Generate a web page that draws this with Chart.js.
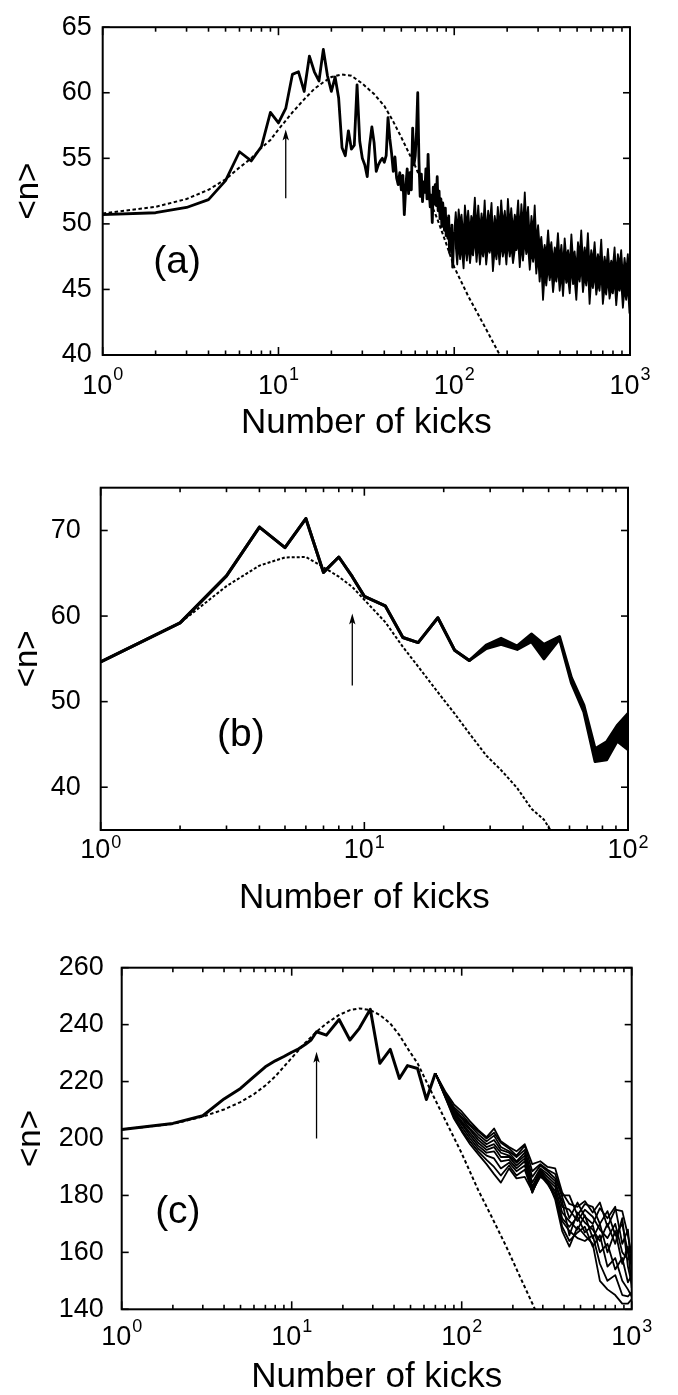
<!DOCTYPE html>
<html><head><meta charset="utf-8">
<script src="https://cdn.jsdelivr.net/npm/chart.js@4.4.1/dist/chart.umd.min.js"></script>
<style>
html,body{margin:0;padding:0;background:#fff;}
#wrap{position:relative;width:678px;height:1395px;background:#fff;overflow:hidden;}
canvas{position:absolute;left:0;}
</style></head><body>
<div id="wrap">
<canvas id="ca" width="678" height="460" style="top:0px"></canvas>
<canvas id="cb" width="678" height="500" style="top:440px"></canvas>
<canvas id="cc" width="678" height="480" style="top:915px"></canvas>
</div>
<script>
// ---------------- DATA ----------------
// Panel (a)
const kicksA = [1,2,3,4,5,6,7,8,9,10,11,12,13,14,15,16,17,18,19,20,21,22,23,24,25,26,27,28,29,30,
  31,32,33,34,35,36,37,38,39,40,41,42,43,44,45,46,47,48,49,50,51,52,53,54,55,56,57,58,59,60,
  61,62,63,64,65,66,67,68,69,70,71,72,73,74,75,76,77,78,79,80,81,82,83,84,85,86,87,88,89,90,
  91,92,93,94,95,96,97,98,99,100];
const nA = [50.7,50.85,51.25,51.85,53.3,55.5,54.8,55.9,58.5,57.7,58.8,61.4,61.6,60.1,62.8,61.6,60.9,63.3,61.3,60.1,
  61.2,59.6,55.8,55.2,57.1,55.7,56.0,60.6,56.3,55.0,
  54.5,53.6,56.0,57.4,56.2,54.0,54.5,54.8,55.0,54.7,55.2,58.1,56.5,55.4,54.0,55.1,53.5,53.0,53.9,52.6,
  53.7,50.7,52.8,54.2,52.3,53.9,52.6,57.3,54.5,55.2,57.0,60.0,54.8,52.1,53.8,51.7,53.2,52.4,54.2,51.9,
  55.3,52.6,51.3,52.2,50.1,52.8,51.5,53.0,51.4,53.6,51.0,52.5,50.4,51.9,49.8,51.6,50.7,49.5,51.2,49.1,
  50.4,48.9,50.6,47.8,49.6,48.2,49.9,46.7,48.7,49.4];
const tailKicksA = [100,102,104,106,108,110,113,115,118,120,123,125,128,131,134,137,140,143,146,149,152,156,159,163,166,170,
  174,177,181,185,189,194,198,202,207,211,216,221,226,231,236,241,246,252,257,263,269,275,281,287,293,
  300,306,313,320,327,334,342,349,357,365,373,381,389,398,407,416,425,434,444,454,464,474,484,495,506,
  517,528,540,552,564,576,589,602,615,629,643,657,671,686,701,717,732,749,765,782,799,817,835,853,872,
  891,911,931,951,972,993,1000];
const tailHiA = [49.4,50.9,49.3,51.1,49.9,50.7,48.9,51.4,49.7,51.0,49.2,50.6,50.0,52.0,49.5,51.4,49.4,50.8,49.6,51.8,49.3,51.0,49.9,51.6,49.0,50.6,
  49.6,51.3,49.5,51.8,50.0,51.0,49.3,51.9,49.8,51.2,49.5,50.7,50.1,51.8,49.2,51.5,49.7,52.4,49.9,51.3,48.8,50.6,49.3,51.4,48.6,
  49.9,48.3,49.0,47.4,48.4,47.6,49.5,47.8,48.6,47.0,48.2,47.6,49.3,47.2,48.4,46.8,48.9,47.4,48.0,46.9,49.2,47.3,47.9,46.5,48.6,
  47.5,49.5,47.0,48.2,47.3,49.3,46.5,48.0,47.1,48.6,46.7,47.7,46.9,48.8,46.2,47.5,46.6,48.1,46.4,47.2,46.7,48.2,46.0,47.7,46.8,
  48.0,45.9,47.4,46.3,47.7,45.6,47.0];
const tailLoA = [49.4,48.3,46.9,48.7,47.3,48.4,46.6,48.6,47.2,48.5,47.0,48.0,47.6,49.0,47.1,48.7,46.9,48.2,47.5,48.6,46.9,48.4,47.8,48.5,46.4,48.1,
  47.3,48.6,46.9,48.7,47.5,48.3,46.9,48.7,47.5,48.4,47.0,48.0,48.0,48.7,46.7,48.5,47.2,48.8,47.7,48.3,46.5,48.0,47.1,48.2,46.2,
  47.6,45.6,46.9,44.2,46.2,45.3,46.8,45.7,46.5,44.8,46.1,45.6,46.7,44.9,46.3,44.5,46.6,45.5,45.9,44.7,46.8,45.4,45.8,44.2,46.4,
  45.6,46.9,44.8,46.0,45.3,46.7,43.9,45.8,45.1,46.3,44.6,45.5,44.9,46.4,43.9,45.2,44.6,45.9,44.3,45.0,44.7,45.8,43.8,45.3,44.9,
  45.6,43.6,45.1,44.2,45.3,43.2,44.5];
const fitKicksA = [1,2,3,4,5,6,7,8,9,10,12,14,16,18,20,23,26,30,35,40,45,50,60,70,80,90,100,120,150,180,190];
const fitA = [50.8,51.3,51.9,52.6,53.4,54.3,55.0,55.8,56.4,57.2,58.5,59.5,60.3,60.8,61.2,61.4,61.3,60.7,59.9,59.0,57.8,56.6,54.4,52.3,50.4,48.5,46.7,44.5,42.1,40.1,39.4];
const arrowA = [11, 51.95, 57.2];
const xTicksA = [1,10,100,1000];
const yTicksA = [40,45,50,55,60,65];

// Panel (b)
const kicksB = [1,2,3,4,5,6,7,8,9,10,12,14,16,19,22,25,29,33,38,43,48,55,61,68,75,83,91,100];
const nB1 = [54.65,59.2,64.7,70.4,68.0,71.4,65.1,66.9,64.6,62.3,61.2,57.5,56.9,59.8,56.0,54.8,56.6,57.4,56.5,57.9,56.7,57.6,52.8,49.6,44.5,45.3,47.2,48.6];
const nB2 = [54.65,59.2,64.7,70.4,68.0,71.4,65.1,66.9,64.6,62.3,61.2,57.5,56.9,59.8,56.0,54.8,56.2,56.7,56.1,57.0,55.0,57.3,52.2,48.8,43.0,43.2,45.4,44.4];
const fitKicksB = [1,2,3,4,5,6,7,8,9,10,12,14,16,19,22,25,29,33,38,43,48,52];
const fitB = [54.65,59.2,63.5,65.9,66.85,66.9,65.7,64.6,63.4,61.9,59.3,56.4,54.1,51.1,48.6,46.3,43.7,42.0,39.9,37.5,36.2,34.5];
const arrowB = [9.0, 51.9, 60.3];
const xTicksB = [1,10,100];
const yTicksB = [40,50,60,70];

// Panel (c)
const kicksC = [1,2,3,4,5,6,7,8,9,10,11,12,13,14,16,19,22,25,29,33,38,43,48,55,62,70];
const nC = [203.2,205.3,208.0,213.9,217.6,221.7,225.2,227.3,228.8,230.3,231.5,233.0,234.6,237.5,236.3,241.8,234.6,238.7,245.4,226.4,231.3,221.1,225.6,224.6,213.7,222.9];
const tailKicksC = [70,80,90,100,112,125,140,155,170,190,210,235,260,290,320,355,390,430,480,530,590,650,720,800,880,950,1000];
const tailC1 = [222.9,216.5,212,209.5,206,203,200.5,203.5,199,197,195.5,198,191,192,190,189.5,181,177,176,178,174,177.5,169,175,174.5,166,159];
const tailC2 = [222.9,216,211,208.5,205,202.5,200,202,198.5,196.5,194,197.5,188.5,191,189,187.5,180,180,173,177,176,170,174.5,166,170,160,156];
const tailC3 = [222.9,215.8,210.5,207.5,204.5,201.5,199,201,197,195.5,193.5,196,186.5,190.5,188.5,186,179.5,172,177.5,172.5,170,175.5,172,176,163,168,153];
const tailC4 = [222.9,215.5,210,207,203.5,200.5,198,199.5,196,195,192,195,184.5,189.5,187.5,185,176,175,171,175,172.5,168,165,170,160,157.5,158];
const tailC5 = [222.9,215.3,209.5,206,203,199.5,197,198,195,194,191.5,194,183,189,186.5,184,178,166,174,170.5,168,164,170,163,172,155,149];
const tailC6 = [222.9,215.2,209,205.5,202,198.5,196,197,193.5,193.5,190.5,193,182,188.5,185.5,183,174,171,168,173,165,170,160,167.5,156,162,147.5];
const tailC7 = [222.9,215,208.5,205,201,197.5,195,195.5,192,192.5,189.5,192,181,188,185,181.5,172,169,172.5,167,169.5,160,163,154,158,149.5,152];
const tailC8 = [222.9,214.8,208,204,200,196.5,194,193,189.5,191.5,188.5,190.5,181,187.5,184.5,180.5,169,164,167,169,162,166,155,158,150,147,144.5];
const tailC9 = [222.9,214.6,207.5,203,199,195.5,192.5,190,187,190.5,187,189,181.5,187,184,179.5,171,167.5,165,164,166,156,150,152,145,144.5,146];
const tailC10 = [222.9,214.5,207,202.5,198,194.5,191,187.5,184.5,189.5,186,186.5,181.5,186.5,185,178.5,167.5,162,169,166,163,150,147,145,142,142,143.5];
const fitKicksC = [1,2,3,4,5,6,7,8,10,12,14,16,19,22,25,29,33,38,43,48,55,62,70,80,100,125,150,183,220,270];
const fitC = [203.2,205.1,207.7,210.2,212.8,215.6,218.6,221.8,228.3,233.6,237.5,240.4,243.4,245.1,245.7,245.1,243.4,240.4,236.3,231.7,226.4,220.0,213.5,206.5,194.8,181.9,172.5,162.0,151.5,140.0];
const arrowC = [14, 200, 230.5];
const xTicksC = [1,10,100,1000];
const yTicksC = [140,160,180,200,220,240,260];

// ---------------- RENDERING ----------------
const FONT = "'Liberation Sans', Arial, Helvetica, sans-serif";
const pts = (xs, ys) => xs.map((x, i) => ({x: x, y: ys[i]}));

const framePlugin = {
  id: 'frame',
  afterDraw(chart, args, o) {
    const {ctx, chartArea: a, scales: {x, y}} = chart;
    ctx.save();
    ctx.strokeStyle = '#000';
    ctx.fillStyle = '#000';
    const line = (x1, y1, x2, y2) => { ctx.beginPath(); ctx.moveTo(x1, y1); ctx.lineTo(x2, y2); ctx.stroke(); };
    // ticks (inward, mirrored)
    ctx.lineWidth = 1.6;
    const lo = Math.floor(Math.log10(x.min)), hi = Math.ceil(Math.log10(x.max));
    for (let e = lo; e <= hi; e++) {
      for (let m = 1; m <= 9; m++) {
        const v = m * Math.pow(10, e);
        if (v < x.min * 0.999 || v > x.max * 1.001) continue;
        const px = x.getPixelForValue(v);
        const len = m === 1 ? 8 : 4.5;
        line(px, a.bottom, px, a.bottom - len);
        line(px, a.top, px, a.top + len);
      }
    }
    y.ticks.forEach(t => {
      const py = y.getPixelForValue(t.value);
      line(a.left, py, a.left + 7, py);
      line(a.right, py, a.right - 7, py);
    });
    // frame
    ctx.lineWidth = 2;
    ctx.strokeRect(a.left, a.top, a.right - a.left, a.bottom - a.top);
    // x tick labels 10^k
    o.xTicks.forEach(v => {
      const e = String(Math.round(Math.log10(v)));
      ctx.font = o.xFont + 'px ' + FONT;
      const w1 = ctx.measureText('10').width;
      ctx.font = o.expFont + 'px ' + FONT;
      const w2 = ctx.measureText(e).width;
      const x0 = x.getPixelForValue(v) - (w1 + w2 + 1) / 2;
      ctx.textAlign = 'left'; ctx.textBaseline = 'alphabetic';
      ctx.font = o.xFont + 'px ' + FONT;
      ctx.fillText('10', x0, a.bottom + o.baseOff);
      ctx.font = o.expFont + 'px ' + FONT;
      ctx.fillText(e, x0 + w1 + 1, a.bottom + o.expOff);
    });
    // arrow
    const ax = x.getPixelForValue(o.arrow[0]);
    const ay0 = y.getPixelForValue(o.arrow[1]);
    const ay1 = y.getPixelForValue(o.arrow[2]);
    ctx.lineWidth = 1.3;
    line(ax, ay0, ax, ay1 + 6);
    ctx.beginPath();
    ctx.moveTo(ax, ay1);
    ctx.lineTo(ax - 3.2, ay1 + 11);
    ctx.lineTo(ax, ay1 + 8.5);
    ctx.lineTo(ax + 3.2, ay1 + 11);
    ctx.closePath();
    ctx.fill();
    // panel label
    ctx.font = o.labelFont + 'px ' + FONT;
    ctx.textAlign = 'center'; ctx.textBaseline = 'middle';
    ctx.fillText(o.label, x.getPixelForValue(o.labelAt[0]), y.getPixelForValue(o.labelAt[1]));
    ctx.restore();
  }
};

function makePanel(id, p) {
  const el = document.getElementById(id);
  const H = el.height;
  const top = parseFloat(el.style.top);
  const t = p.area.t - top, b = p.area.b - top;
  const titleLH = 1.2 * p.titleFont;
  const ds = [];
  p.series.forEach(s => ds.push({data: s.data, borderColor: '#000', borderWidth: s.w, pointRadius: 0,
    fill: s.fill === undefined ? false : s.fill, backgroundColor: '#000',
    tension: 0, borderJoinStyle: 'round', clip: 0}));
  ds.push({data: p.fit, borderColor: '#000', borderWidth: 2, borderDash: p.dash, pointRadius: 0,
    fill: false, tension: 0, clip: 0});
  return new Chart(el, {
    type: 'line',
    data: {datasets: ds},
    options: {
      responsive: false, maintainAspectRatio: false, animation: false, events: [],
      layout: {autoPadding: false, padding: {left: 0, right: 678 - p.area.r, top: t, bottom: 0}},
      plugins: {legend: {display: false}, tooltip: {enabled: false}, title: {display: false},
        filler: {propagate: false},
        frame: {xTicks: p.xTicks, xFont: 27, expFont: 18, baseOff: p.baseOff, expOff: p.expOff,
          arrow: p.arrow, label: p.label, labelAt: p.labelAt, labelFont: 39}},
      scales: {
        x: {type: 'logarithmic', min: p.xMin, max: p.xMax,
          grid: {display: false, drawTicks: false}, border: {display: false},
          ticks: {display: false},
          title: {display: true, text: 'Number of kicks', color: '#000',
            font: {family: FONT, size: p.titleFont},
            padding: {top: 0, bottom: H - (b + p.titleOff) - titleLH / 2}},
          afterFit: s => { s.height = H - b; }},
        y: {type: 'linear', min: p.yMin, max: p.yMax,
          afterBuildTicks: s => { s.ticks = p.yTicks.map(v => ({value: v})); },
          grid: {display: false, drawTicks: false}, border: {display: false},
          ticks: {color: '#000', font: {family: FONT, size: 27}, padding: p.yTickPad, autoSkip: false},
          title: {display: true, text: '<n>', color: '#000', font: {family: FONT, size: 33},
            padding: {top: p.yTitleX - 1.2 * 33 / 2, bottom: 0}},
          afterFit: s => { s.width = p.area.l; }}
      }
    },
    plugins: [framePlugin]
  });
}

makePanel('ca', {
  area: {l: 102.7, r: 630, t: 13.3, b: 355},
  xMin: 1, xMax: 1000, yMin: 40, yMax: 65, xTicks: xTicksA, yTicks: yTicksA,
  series: [{data: pts(kicksA, nA), w: 2.8},
           {data: pts(tailKicksA, tailHiA), w: 1.8},
           {data: pts(tailKicksA, tailLoA), w: 1.8, fill: '-1'}],
  fit: pts(fitKicksA, fitA), dash: [3.5, 2.5],
  arrow: arrowA, label: '(a)', labelAt: [2.65, 47.1],
  baseOff: 39, expOff: 25, titleFont: 35, titleOff: 68, yTickPad: 11, yTitleX: 29
});
makePanel('cb', {
  area: {l: 100.7, r: 628, t: 487.7, b: 830},
  xMin: 1, xMax: 100, yMin: 35, yMax: 75, xTicks: xTicksB, yTicks: yTicksB,
  series: [{data: pts(kicksB, nB1), w: 3}, {data: pts(kicksB, nB2), w: 3, fill: '-1'}],
  fit: pts(fitKicksB, fitB), dash: [3, 2],
  arrow: arrowB, label: '(b)', labelAt: [3.4, 46.1],
  baseOff: 28, expOff: 18, titleFont: 35, titleOff: 68, yTickPad: 20, yTitleX: 28
});
const tailsC = [tailC1, tailC2, tailC3, tailC4, tailC5, tailC6, tailC7, tailC8, tailC9, tailC10];
makePanel('cc', {
  area: {l: 121.7, r: 631.7, t: 967.7, b: 1309.3},
  xMin: 1, xMax: 1000, yMin: 140, yMax: 260, xTicks: xTicksC, yTicks: yTicksC,
  series: [{data: pts(kicksC, nC), w: 3}].concat(tailsC.map(tc => ({data: pts(tailKicksC, tc), w: 1.8}))),
  fit: pts(fitKicksC, fitC), dash: [3.5, 2.5],
  arrow: arrowC, label: '(c)', labelAt: [2.14, 174.2],
  baseOff: 36, expOff: 23, titleFont: 35, titleOff: 68, yTickPad: 18, yTitleX: 31
});
</script>
</body></html>
